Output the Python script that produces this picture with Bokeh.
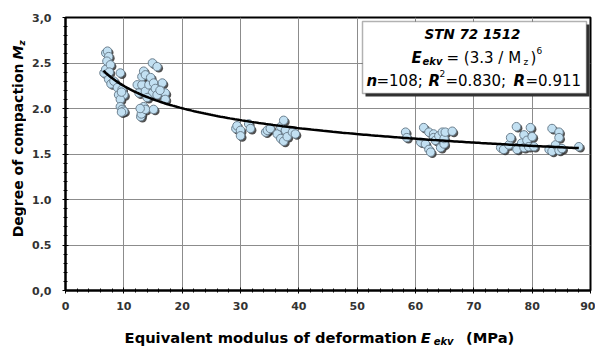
import numpy as np
from bokeh.plotting import figure
from bokeh.layouts import row, column
from bokeh.models import ColumnDataSource, FixedTicker, LabelSet, BoxAnnotation, Range1d
from bokeh.core.properties import field, value
from bokeh.transform import dodge
from bokeh.embed import file_html
from bokeh.resources import INLINE

# ---------------- data ----------------
e_ekv = [
    6.6, 6.9, 6.9, 7.2, 7.4, 7.1, 7.7, 7.5, 7.4, 7.8, 8.3, 8.9, 9.4, 9.7, 9.1, 10.0, 9.4, 9.6, 9.4, 9.7, 10.0, 9.6,
    12.3, 12.6, 12.9, 13.0, 13.1, 13.1, 13.4, 13.4, 13.7, 13.7, 13.7, 14.3, 14.6, 14.9, 14.9, 15.1, 15.1, 15.4,
    15.7, 15.7, 16.6, 17.1, 17.1, 14.0, 12.8, 16.2,
    29.2, 29.4, 30.0, 30.0, 31.4, 31.7,
    34.3, 34.6, 35.1, 36.3, 36.9, 37.4, 37.7, 36.9, 37.4, 38.0, 38.9, 39.4,
    58.3, 58.5, 60.9, 61.4, 61.7, 62.3, 62.3, 62.6, 63.1, 63.1, 63.4, 64.0, 64.3, 64.6, 64.9, 64.9, 65.1, 66.3,
    74.6, 75.1, 76.0, 76.3, 77.3, 77.4, 77.4, 78.2, 78.6, 78.6, 79.1, 79.4, 79.7, 80.0, 80.3, 82.9, 83.4, 83.4,
    84.0, 84.6, 84.6, 84.6, 85.1, 88.0,
]
m_z = [
    2.39, 2.43, 2.61, 2.63, 2.57, 2.52, 2.48, 2.40, 2.32, 2.27, 2.30, 2.23, 2.39, 2.21, 2.15, 2.15, 2.10, 2.18, 2.02, 1.99, 1.97, 1.96,
    2.26, 2.17, 1.91, 1.94, 2.26, 2.35, 2.41, 2.02, 2.37, 2.19, 1.99, 2.26, 2.34, 2.50, 2.17, 2.28, 1.99, 2.22,
    2.46, 2.15, 2.28, 2.17, 2.10, 2.12, 2.00, 2.20,
    1.78, 1.81, 1.76, 1.70, 1.83, 1.78,
    1.74, 1.76, 1.78, 1.72, 1.80, 1.87, 1.76, 1.67, 1.64, 1.69, 1.74, 1.72,
    1.74, 1.68, 1.63, 1.79, 1.61, 1.74, 1.55, 1.52, 1.72, 1.68, 1.65, 1.70, 1.57, 1.74, 1.61, 1.67, 1.74, 1.75,
    1.57, 1.55, 1.60, 1.68, 1.80, 1.57, 1.55, 1.62, 1.71, 1.57, 1.65, 1.58, 1.79, 1.69, 1.58, 1.55, 1.78, 1.53,
    1.60, 1.74, 1.68, 1.54, 1.56, 1.58,
]
x_ticks = [0, 10, 20, 30, 40, 50, 60, 70, 80, 90]
y_ticks = [0.0, 0.5, 1.0, 1.5, 2.0, 2.5, 3.0]
y_tick_labels = ["0,0", "0.5", "1.0", "1.5", "2.0", "2.5", "3,0"]
fit_a = 3.3      # E_ekv = (fit_a / M_z)^fit_b
fit_b = 6
fit_e_range = [6.5, 88.0]

FONT = "DejaVu Sans"
HALF_PI = float(np.pi / 2)
LEFT_W = 26          # width of the strip holding the y title
MAIN_W, MAIN_H = 569, 318
BOTTOM_H = 30

# ---------------- main figure ----------------
p = figure(width=MAIN_W, height=MAIN_H, title=None,
           x_range=Range1d(0, 90), y_range=Range1d(0, 3),
           output_backend="svg", toolbar_location=None,
           min_border_left=39, min_border_right=5, min_border_top=17, min_border_bottom=28)
p.background_fill_color = "white"
p.border_fill_color = "white"
p.outline_line_color = "black"
p.outline_line_width = 2

FW = 525.0 / 90.0   # px per x unit
FH = 273.0 / 3.0    # px per y unit
def X(px):          # page pixel -> data (main frame spans page x 65..590, y 17..290)
    return (px - 65) / FW
def Y(py):
    return (290 - py) / FH

for ax in (p.xaxis[0], p.yaxis[0]):
    ax.axis_line_color = "black"
    ax.axis_line_width = 2
    ax.major_tick_line_color = "black"
    ax.minor_tick_line_color = "black"
    ax.major_tick_in = 3
    ax.major_tick_out = 3
    ax.minor_tick_in = 2
    ax.minor_tick_out = 2
    ax.major_label_text_font = FONT
    ax.major_label_text_font_style = "bold"
    ax.major_label_text_font_size = "11px"
    ax.major_label_text_color = "#333333"

p.xaxis.ticker = FixedTicker(ticks=x_ticks, minor_ticks=list(range(0, 91, 2)))
p.yaxis.ticker = FixedTicker(ticks=y_ticks, minor_ticks=[i / 10 for i in range(31)])
p.yaxis.major_label_overrides = dict(zip(y_ticks, y_tick_labels))
p.xaxis.major_label_standoff = 8
p.yaxis.major_label_standoff = 11

p.xgrid.grid_line_color = "#8c8c8c"
p.ygrid.grid_line_color = "#8c8c8c"

src = ColumnDataSource(dict(x=e_ekv, y=m_z))
# point shadows, then points
p.scatter(x=dodge("x", 0.3), y=dodge("y", -0.018), size=8.5, fill_color="#333333",
          line_color=None, fill_alpha=0.85, source=src)
p.scatter(x="x", y="y", size=8.5, fill_color="#c2e0f2", line_color="#6d8190",
          line_width=1, source=src)

fe = np.linspace(fit_e_range[0], fit_e_range[1], 200)
fm = fit_a / fe ** (1.0 / fit_b)
p.line(fe, fm, line_color="black", line_width=2.5)

# legend box with shadow
p.add_layout(BoxAnnotation(left=X(365), right=X(589), top=Y(24), bottom=Y(96),
                           fill_color="#333333", fill_alpha=1, line_color=None))
p.add_layout(BoxAnnotation(left=X(362), right=X(586), top=Y(21), bottom=Y(93),
                           fill_color="white", fill_alpha=1, line_color="black", line_width=1.5))

def piece_source(items, fx, fy):
    d = dict(x=[], y=[], text=[], size=[], style=[], align=[], angle=[])
    for px, py, s, size, style, align, angle in items:
        d["x"].append(fx(px)); d["y"].append(fy(py)); d["text"].append(s)
        d["size"].append(size); d["style"].append(style); d["align"].append(align)
        d["angle"].append(angle)
    return ColumnDataSource(d)

legend_src = piece_source([
    (472, 33, "STN 72 1512", "13.5px", "bold italic", "center", 0.0),
    (411, 57, "E", "15px", "bold italic", "left", 0.0),
    (422, 61, "ekv", "10px", "bold italic", "left", 0.0),
    (446, 57, "= (3.3 / M", "15px", "normal", "left", 0.0),
    (523, 61, "z", "9px", "normal", "left", 0.0),
    (530, 57, ")", "15px", "normal", "left", 0.0),
    (536, 50, "6", "9px", "normal", "left", 0.0),
    (366, 80, "n", "15px", "bold italic", "left", 0.0),
    (376, 80, "=108;", "15px", "normal", "left", 0.0),
    (428, 80, "R", "15px", "bold italic", "left", 0.0),
    (439, 73, "2", "9px", "normal", "left", 0.0),
    (445, 80, "=0.830;", "15px", "normal", "left", 0.0),
    (513, 80, "R", "15px", "bold italic", "left", 0.0),
    (525, 80, "=0.911", "15px", "normal", "left", 0.0),
], X, Y)
p.add_layout(LabelSet(x="x", y="y", text="text", source=legend_src,
                      text_font=value(FONT), text_font_size=field("size"),
                      text_font_style=field("style"), text_align=field("align"),
                      text_baseline="middle", text_color="black"))

# ---------------- title strips (page-pixel coordinates) ----------------
def strip(width, height, x0, y0):
    f = figure(width=width, height=height, title=None, output_backend="svg",
               toolbar_location=None, x_axis_location=None, y_axis_location=None,
               x_range=Range1d(x0, x0 + width), y_range=Range1d(y0 + height, y0),
               min_border=0)
    f.outline_line_color = None
    f.grid.visible = False
    f.background_fill_color = "white"
    f.border_fill_color = "white"
    return f

def draw_pieces(f, items):
    s = piece_source(items, lambda v: v, lambda v: v)
    f.text(x="x", y="y", text="text", source=s, angle=field("angle"),
           text_font=value(FONT), text_font_size=field("size"),
           text_font_style=field("style"), text_align=field("align"),
           text_baseline="middle", text_color="black")

bottom = strip(MAIN_W, BOTTOM_H, LEFT_W, MAIN_H)
draw_pieces(bottom, [
    (407, 337, "Equivalent modulus of deformation", "14.7px", "bold", "right", 0.0),
    (411, 337, "E", "14.7px", "bold italic", "left", 0.0),
    (425, 341, "ekv", "10px", "bold italic", "left", 0.0),
    (460, 337, "(MPa)", "14.7px", "bold", "left", 0.0),
])

left = strip(LEFT_W, MAIN_H + BOTTOM_H, 0, 0)
draw_pieces(left, [
    (17, 63, "Degree of compaction", "14px", "bold", "right", HALF_PI),
    (17, 59, "M", "14px", "bold italic", "left", HALF_PI),
    (21, 45, "z", "9px", "bold italic", "left", HALF_PI),
])

layout = row(left, column(p, bottom, spacing=0), spacing=0)
open("out.html", "w").write(file_html(layout, INLINE))
